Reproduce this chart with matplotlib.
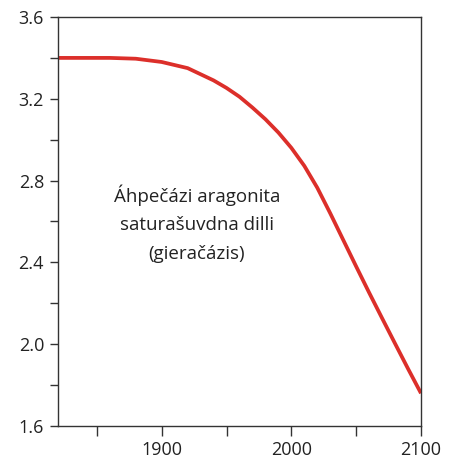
import matplotlib
matplotlib.use("Agg")
import matplotlib.pyplot as plt
from matplotlib.ticker import MultipleLocator

# aragonite saturation state
years = [1820, 1860, 1880, 1900, 1920, 1940, 1950, 1960, 1970, 1980, 1990, 2000,
         2010, 2020, 2030, 2040, 2050, 2060, 2070, 2080, 2090, 2100]
omega = [3.40, 3.40, 3.396, 3.38, 3.35, 3.29, 3.253, 3.21, 3.157, 3.10, 3.035, 2.96,
         2.872, 2.765, 2.64, 2.51, 2.38, 2.252, 2.127, 2.003, 1.88, 1.76]

label = "Áhpečázi aragonita\nsaturašuvdna dilli\n(gieračázis)"

plt.rcParams["font.family"] = ["Open Sans", "DejaVu Sans"]

fig, ax = plt.subplots(figsize=(4.60, 4.62), dpi=100)
fig.subplots_adjust(left=58 / 460, right=421 / 460, top=1 - 17 / 462, bottom=1 - 426 / 462)

ax.plot(years, omega, color="#dc2f2a", lw=2.7, solid_capstyle="butt")

ax.set_xlim(1820, 2100)
ax.set_ylim(1.6, 3.6)
ax.xaxis.set_major_locator(MultipleLocator(100))
ax.xaxis.set_minor_locator(MultipleLocator(50))
ax.yaxis.set_major_locator(MultipleLocator(0.4))
ax.yaxis.set_minor_locator(MultipleLocator(0.2))
ax.yaxis.set_major_formatter(lambda v, p: f"{v:.1f}")

ax.tick_params(which="both", direction="out", length=6, width=1, color="#333333",
               labelsize=13, labelcolor="#222222", pad=4)
ax.tick_params(axis="x", which="both", length=7)
for s in ax.spines.values():
    s.set_color("#333333")
    s.set_linewidth(1)

ax.text(1927, 2.59, label, ha="center", va="center", fontsize=13.5,
        color="#222222", linespacing=1.75)

fig.savefig("out.png", dpi=100)
